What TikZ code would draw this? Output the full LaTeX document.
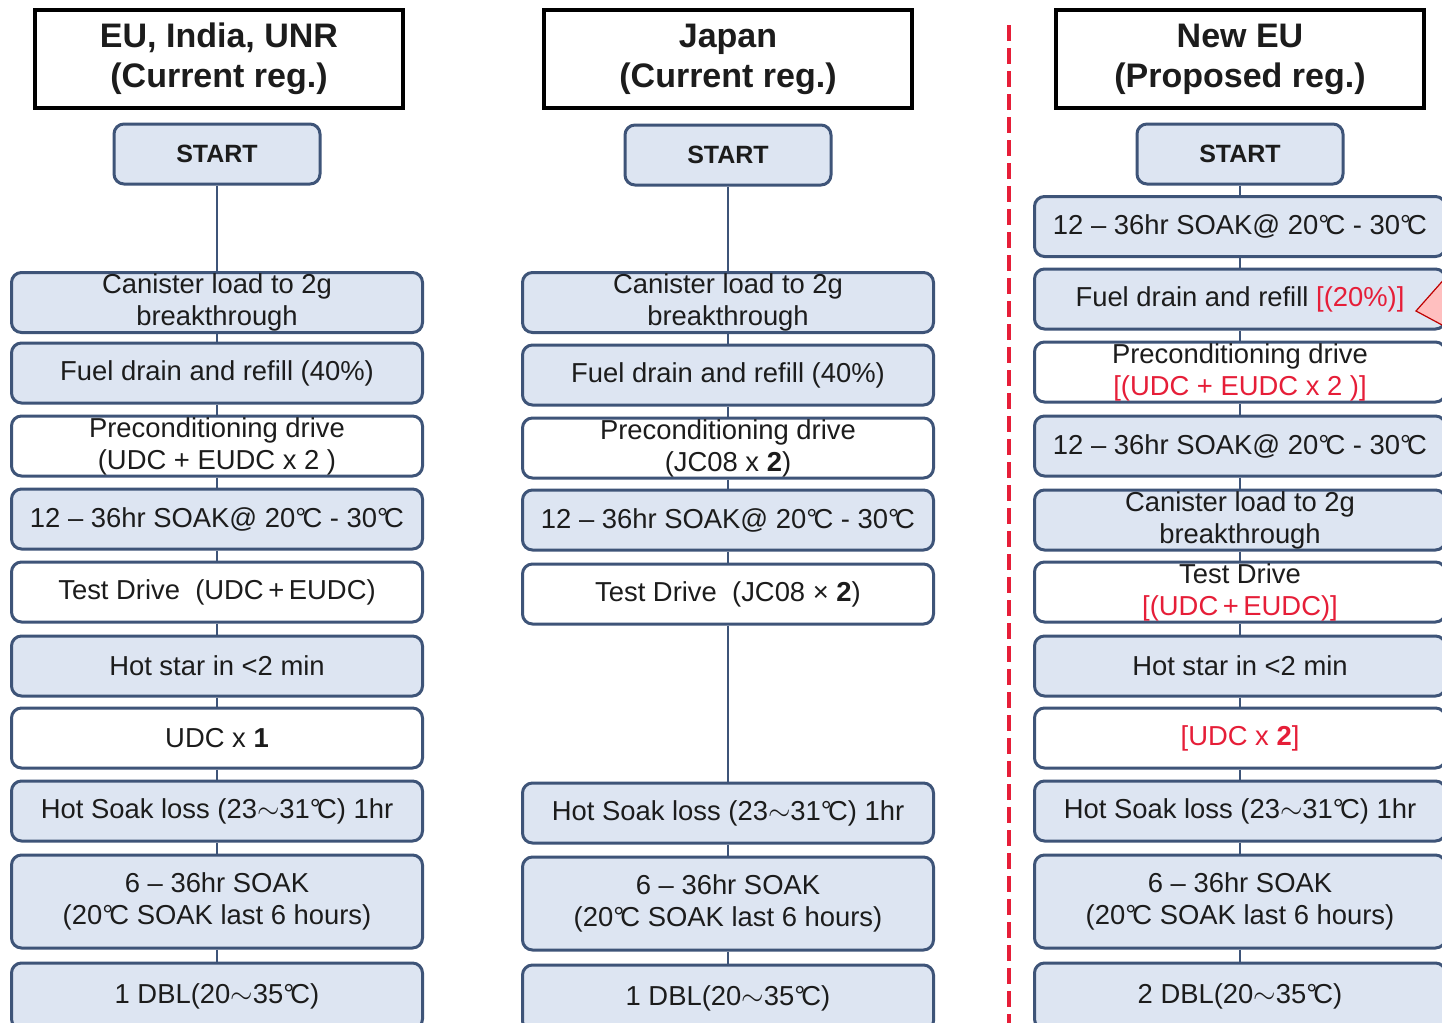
\documentclass[tikz,border=0pt]{standalone}
\usepackage{fontspec}
\setmainfont{Liberation Sans}
\usetikzlibrary{positioning}
\definecolor{boxline}{RGB}{62,84,120}
\definecolor{boxfill}{RGB}{221,229,242}
\definecolor{regred}{RGB}{230,30,56}
\definecolor{txt}{RGB}{28,28,28}
\newcommand{\tl}{$\sim$}
\newcommand{\dgc}{°\kern-0.14em C}
\begin{document}
\begin{tikzpicture}[x=0.5pt,y=-0.5pt,
  head/.style={draw=black,line width=2pt,minimum width=184pt,minimum height=49pt,
    align=center,inner sep=0pt,text=txt,font=\fontsize{17}{20}\selectfont\bfseries},
  startbox/.style={draw=boxline,fill=boxfill,line width=1.5pt,rounded corners=5pt,
    minimum width=103pt,minimum height=30pt,inner sep=0pt,text=txt,
    font=\fontsize{12.5}{15}\selectfont\bfseries},
  stepbox/.style={draw=boxline,fill=boxfill,line width=1.5pt,rounded corners=5pt,
    minimum width=205.5pt,minimum height=30pt,align=center,inner sep=0pt,text=txt,
    font=\fontsize{13.7}{16}\selectfont},
  stepwhite/.style={stepbox,fill=white},
  link/.style={draw=boxline,line width=0.8pt}]
\clip (0,0) rectangle (1442,1023);
\useasboundingbox (0,0) rectangle (1442,1023);
\fill[white] (0,0) rectangle (1442,1023);

\node[head] (euH) at (219,59) {EU, India, UNR\\(Current reg.)};
\node[startbox] (euS) at (217,154) {START};
\node[stepbox] (eu1) at (217,302.5) {Canister load to 2g\\breakthrough};
\node[stepbox] (eu2) at (217,373) {Fuel drain and refill (40\%)};
\node[stepwhite] (eu3) at (217,446) {Preconditioning drive\\(UDC + EUDC x 2 )};
\node[stepbox] (eu4) at (217,519) {12 -- 36hr SOAK@ 20\dgc{} - 30\dgc};
\node[stepwhite] (eu5) at (217,592) {Test Drive~~(UDC\,+\,EUDC)};
\node[stepbox] (eu6) at (217,666) {Hot star in <2 min};
\node[stepwhite] (eu7) at (217,738) {UDC x \textbf{1}};
\node[stepbox] (eu8) at (217,811) {Hot Soak loss (23\tl31\dgc) 1hr};
\node[stepbox,minimum height=46.5pt] (eu9) at (217,901.5) {6 -- 36hr SOAK\\(20\dgc{} SOAK last 6 hours)};
\node[stepbox,minimum height=33pt] (eu10) at (217,996) {1 DBL(20\tl35\dgc)};
\draw[link] (euS) -- (eu1) -- (eu2) -- (eu3) -- (eu4) -- (eu5) -- (eu6) -- (eu7) -- (eu8) -- (eu9) -- (eu10);

\node[head] (jpH) at (728,59) {Japan\\(Current reg.)};
\node[startbox] (jpS) at (728,155) {START};
\node[stepbox] (jp1) at (728,302.5) {Canister load to 2g\\breakthrough};
\node[stepbox] (jp2) at (728,375) {Fuel drain and refill (40\%)};
\node[stepwhite] (jp3) at (728,448) {Preconditioning drive\\(JC08 x \textbf{2})};
\node[stepbox] (jp4) at (728,520) {12 -- 36hr SOAK@ 20\dgc{} - 30\dgc};
\node[stepwhite] (jp5) at (728,594) {Test Drive~~(JC08 × \textbf{2})};
\node[stepbox] (jp6) at (728,813) {Hot Soak loss (23\tl31\dgc) 1hr};
\node[stepbox,minimum height=46.5pt] (jp7) at (728,903.5) {6 -- 36hr SOAK\\(20\dgc{} SOAK last 6 hours)};
\node[stepbox,minimum height=33pt] (jp8) at (728,998) {1 DBL(20\tl35\dgc)};
\draw[link] (jpS) -- (jp1) -- (jp2) -- (jp3) -- (jp4) -- (jp5) -- (jp6) -- (jp7) -- (jp8);

\draw[regred,line width=2pt,dash pattern=on 8pt off 3.5pt] (1009,25) -- (1009,1030);

\node[head] (neH) at (1240,59) {New EU\\(Proposed reg.)};
\node[startbox] (neS) at (1240,154) {START};
\node[stepbox] (ne1) at (1240,226.5) {12 -- 36hr SOAK@ 20\dgc{} - 30\dgc};
\node[stepbox] (ne2) at (1240,299) {Fuel drain and refill \textcolor{regred}{[(20\%)]}};
\node[stepwhite] (ne3) at (1240,372) {Preconditioning drive\\\textcolor{regred}{[(UDC + EUDC x 2 )]}};
\node[stepbox] (ne4) at (1240,446) {12 -- 36hr SOAK@ 20\dgc{} - 30\dgc};
\node[stepbox] (ne5) at (1240,520) {Canister load to 2g\\breakthrough};
\node[stepwhite] (ne6) at (1240,592) {Test Drive\\\textcolor{regred}{[(UDC\,+\,EUDC)]}};
\node[stepbox] (ne7) at (1240,666) {Hot star in <2 min};
\node[stepwhite] (ne8) at (1240,738) {\textcolor{regred}{[UDC x \textbf{2}]}};
\node[stepbox] (ne9) at (1240,811) {Hot Soak loss (23\tl31\dgc) 1hr};
\node[stepbox,minimum height=46.5pt] (ne10) at (1240,901.5) {6 -- 36hr SOAK\\(20\dgc{} SOAK last 6 hours)};
\node[stepbox,minimum height=33pt] (ne11) at (1240,996) {2 DBL(20\tl35\dgc)};
\draw[link] (neS) -- (ne1) -- (ne2) -- (ne3) -- (ne4) -- (ne5) -- (ne6) -- (ne7) -- (ne8) -- (ne9) -- (ne10) -- (ne11);

\filldraw[fill=red!25,draw=red!75!black,line width=0.6pt] (1416,311) -- (1470,250) -- (1470,340) -- cycle;
\end{tikzpicture}
\end{document}
